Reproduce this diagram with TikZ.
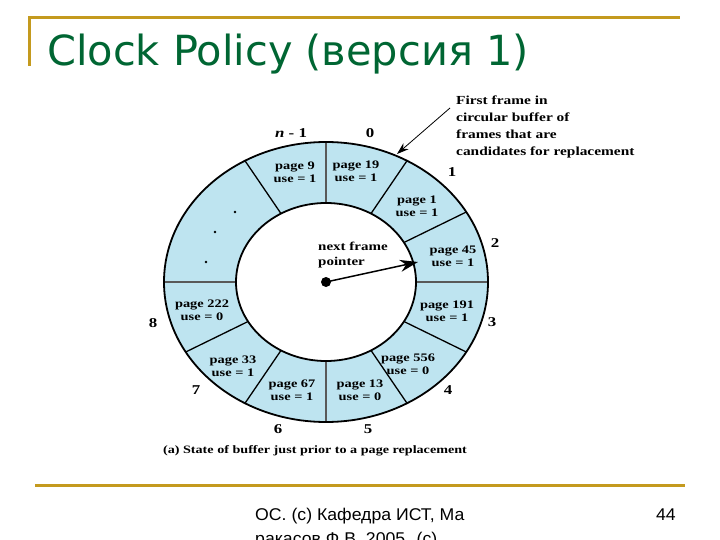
\documentclass[tikz,border=0pt]{standalone}
\usepackage{fontspec}
\setmainfont{DejaVu Sans}
\newfontfamily\figfont[FakeStretch=1.25]{Liberation Serif}
\newfontfamily\footfont[FakeStretch=1.04]{Liberation Sans}
\usetikzlibrary{arrows.meta}
\definecolor{titlegreen}{RGB}{0,102,51}
\definecolor{rulegold}{RGB}{196,154,30}
\definecolor{bufblue}{RGB}{190,228,240}

\begin{document}
\begin{tikzpicture}[>=Stealth, x=1pt, y=-1pt,
  frame/.style={font=\figfont\bfseries\fontsize{11.5}{13}\selectfont, align=center, inner sep=0pt},
  num/.style={font=\figfont\bfseries\fontsize{13.5}{14}\selectfont, inner sep=0pt},
  note/.style={font=\figfont\bfseries\fontsize{12}{15}\selectfont, align=left, inner sep=0pt}]
  \clip (0,0) rectangle (720,540);
  \fill[white] (0,0) rectangle (720,540);
  \draw[rulegold, line width=3pt] (29,66) -- (29,18) -- (680,18);
  \draw[rulegold, line width=3pt] (35,485) -- (685,485);
  \node[anchor=base west, inner sep=0pt, text=titlegreen, font=\fontsize{41.5}{42}\selectfont] (title) at (47,66) {Clock Policy (версия 1)};

  \begin{scope}[shift={(326,282)}, y=1pt]
    \fill[bufblue, even odd rule] (0,0) ellipse [x radius=162, y radius=140] (0,0) ellipse [x radius=90, y radius=79];
    \foreach \a in {30,60,120,210,240,300,330}
      \draw[line width=1.3pt] ({90*cos(\a)},{79*sin(\a)}) -- ({162*cos(\a)},{140*sin(\a)});
    \foreach \a in {0,90,180,270}
      \draw[line width=1.8pt, black!65] ({90*cos(\a)},{79*sin(\a)}) -- ({162*cos(\a)},{140*sin(\a)});
    \draw[line width=1.8pt] (0,0) ellipse [x radius=162, y radius=140];
    \draw[line width=1.8pt] (0,0) ellipse [x radius=90, y radius=79];
    \coordinate (ptr) at (0,0);
    \coordinate (hit) at (92,20);
    \coordinate (first) at (71,128);
  \end{scope}

  \node[frame] (f9) at (295,172) {page 9\\use = 1};
  \node[frame] (f19) at (356,171) {page 19\\use = 1};
  \node[frame] (f1) at (417,206) {page 1\\use = 1};
  \node[frame] (f45) at (453,256) {page 45\\use = 1};
  \node[frame] (f191) at (447,311) {page 191\\use = 1};
  \node[frame] (f556) at (408,364) {page 556\\use = 0};
  \node[frame] (f13) at (360,390) {page 13\\use = 0};
  \node[frame] (f67) at (292,390) {page 67\\use = 1};
  \node[frame] (f33) at (233,366) {page 33\\use = 1};
  \node[frame] (f222) at (202,310) {page 222\\use = 0};
  \fill (235,212) circle (1.4) (215,232) circle (1.4) (206,262) circle (1.4);

  \node[num] (nlast) at (291,133) {\itshape n\upshape{} - 1};
  \node[num] (n0) at (370,133) {0};
  \node[num] (n1) at (452,172) {1};
  \node[num] (n2) at (495,243) {2};
  \node[num] (n3) at (492,322) {3};
  \node[num] (n4) at (448,390) {4};
  \node[num] (n5) at (368,429) {5};
  \node[num] (n6) at (278,429) {6};
  \node[num] (n7) at (196,390) {7};
  \node[num] (n8) at (153,323) {8};

  \node[note, anchor=north west] (ptrlabel) at (318,242) {next frame\\pointer};
  \fill (ptr) circle (5);
  \draw[line width=1.5pt, -{Stealth[length=18pt,width=12pt]}] (ptr) -- (hit);

  \node[note, anchor=north west, font=\figfont\bfseries\fontsize{12.3}{17}\selectfont] (callout) at (456,96) {First frame in\\circular buffer of\\frames that are\\candidates for replacement};
  \coordinate (tail) at (450,108);
  \draw[line width=0.8pt, -{Stealth[length=12pt,width=8pt]}] (tail) -- (first);

  \node[note, font=\figfont\bfseries\fontsize{11.3}{13}\selectfont] (caption) at (315,451) {(a) State of buffer just prior to a page replacement};

  \node[anchor=north west, align=left, inner sep=0pt, font=\footfont\fontsize{17}{24}\selectfont] (footer) at (255,508) {ОС. (с) Кафедра ИСТ, Ма\\ракасов Ф.В. 2005. (с)};
  \node[anchor=base east, inner sep=0pt, font=\footfont\fontsize{17}{24}\selectfont] (pagenum) at (676,520) {44};
\end{tikzpicture}
\end{document}
